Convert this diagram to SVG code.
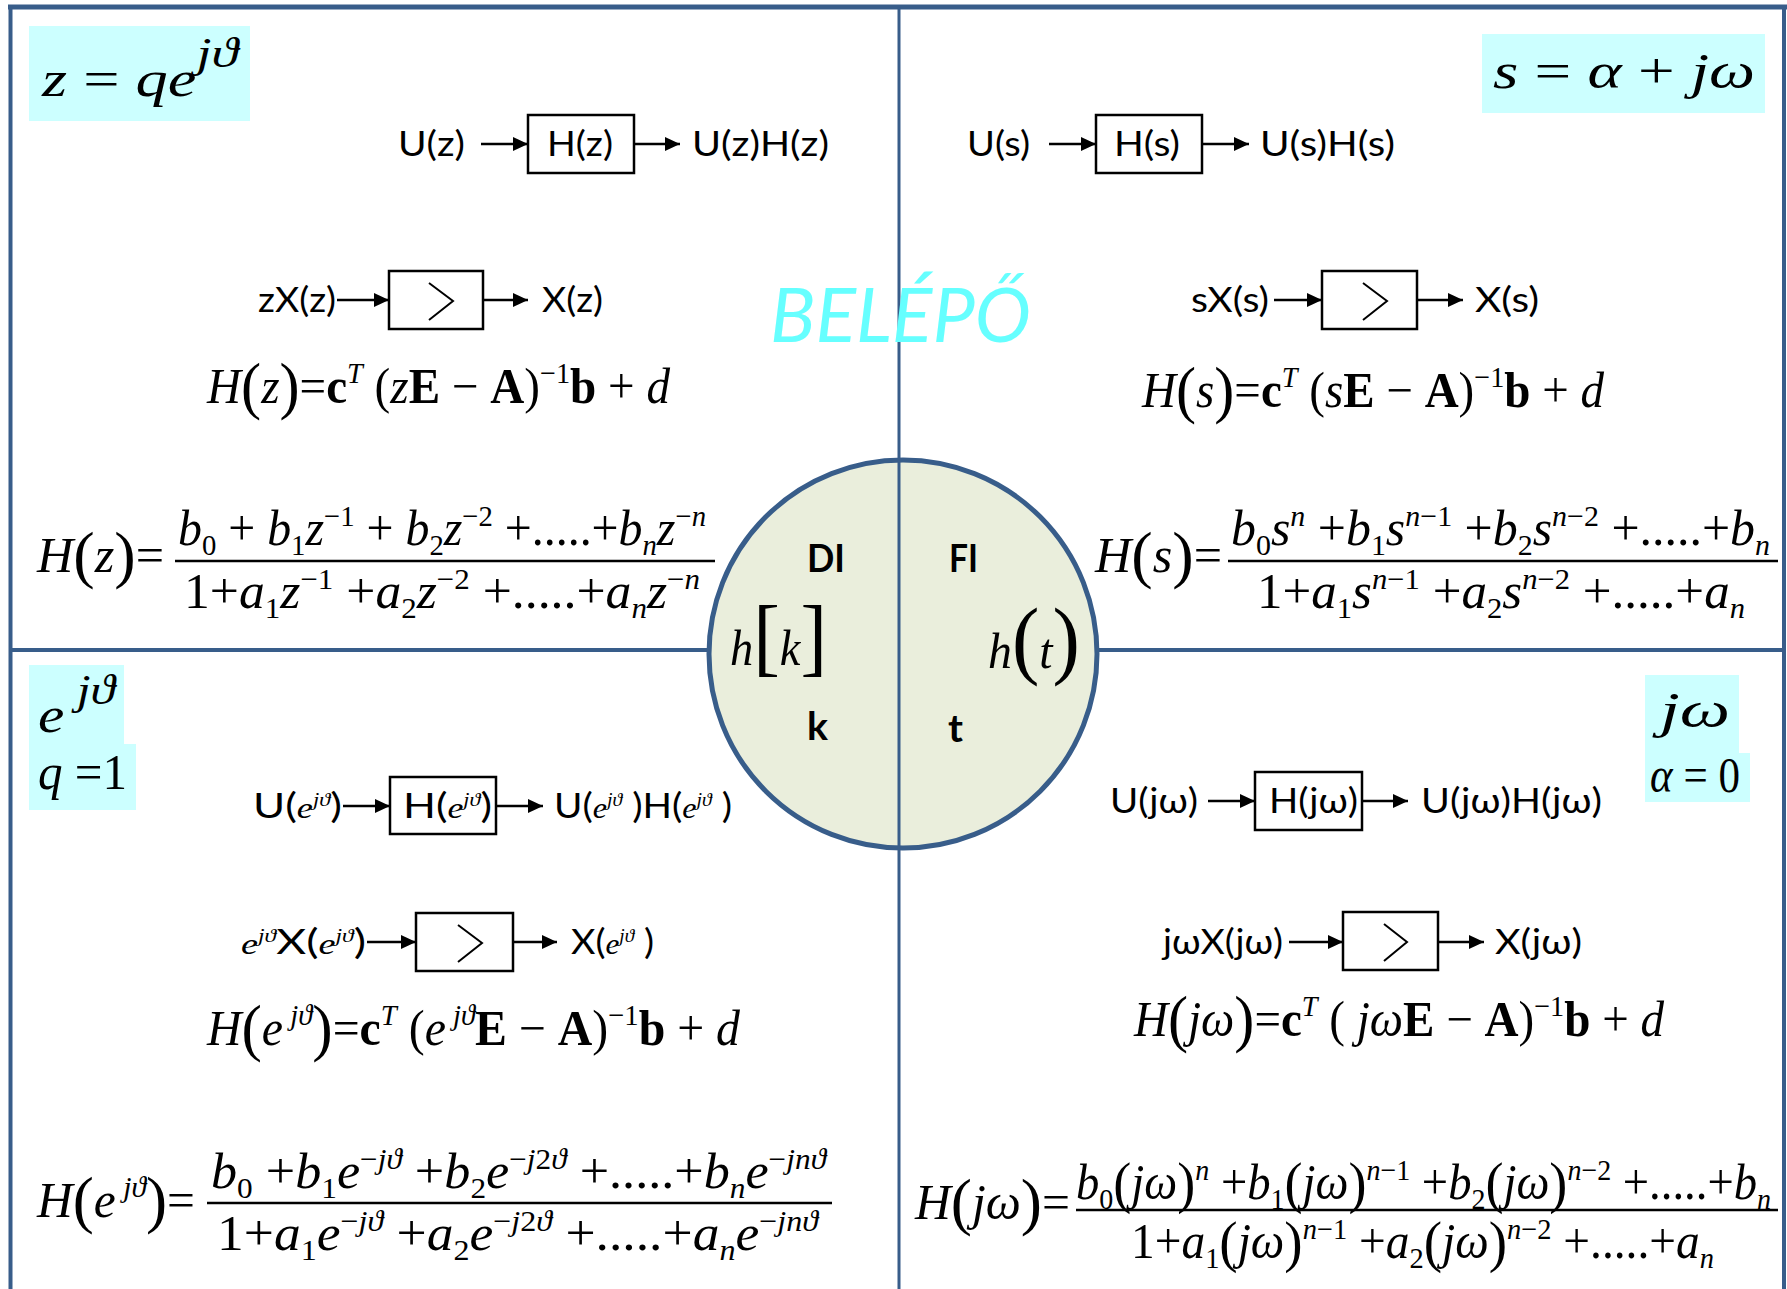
<svg xmlns="http://www.w3.org/2000/svg" width="1787" height="1289" viewBox="0 0 1787 1289">
<style>
.t{font-family:Lato,'Open Sans','DejaVu Sans',sans-serif;font-size:35px;fill:#000}
.bd{font-family:Lato,'Open Sans','DejaVu Sans',sans-serif;font-weight:bold;font-size:39px;fill:#000}
.f{font-family:'Liberation Serif','Times New Roman',serif;font-size:50px;fill:#000}
.i{font-style:italic}
.b{font-weight:bold}
.s{font-size:30px}
.P{font-size:64px}
.ei{font-family:'Liberation Serif','Times New Roman',serif;font-style:italic;font-size:29px}
.ej{font-family:'Liberation Serif','Times New Roman',serif;font-style:italic;font-size:18px}
.box{fill:none;stroke:#000;stroke-width:2.5}
.chev{fill:none;stroke:#000;stroke-width:2}
.cy{fill:#CCFFFF}
.fl{stroke:#000;stroke-width:2.5}
.frame{stroke:#385D8A;fill:none}
.arr{stroke:#000;stroke-width:2.5;fill:none;marker-end:url(#ah)}
</style>
<defs>
<marker id="ah" markerUnits="userSpaceOnUse" markerWidth="15" markerHeight="14" refX="15" refY="7" orient="auto"><path d="M0,0 L15,7 L0,14 z" fill="#000"/></marker>
</defs>
<rect width="1787" height="1289" fill="#fff"/>
<g id="frame" class="frame">
<line x1="8" y1="7" x2="1787" y2="7" stroke-width="5"/>
<line x1="10.5" y1="5" x2="10.5" y2="1289" stroke-width="4"/>
<line x1="1784" y1="5" x2="1784" y2="1289" stroke-width="4"/>
<line x1="10" y1="650" x2="1784" y2="650" stroke-width="4"/>
</g>
<g id="center-circle">
<circle cx="903" cy="654" r="194" fill="#EAEEDC" stroke="#385D8A" stroke-width="5"/>
</g>
<g id="divider"><line x1="899" y1="7" x2="899" y2="1289" stroke="#385D8A" stroke-width="3"/></g>
<g id="center-labels">
<text class="bd" x="807" y="572" textLength="38" lengthAdjust="spacingAndGlyphs">DI</text>
<text class="bd" x="949" y="572" textLength="29" lengthAdjust="spacingAndGlyphs">FI</text>
<text class="bd" x="807" y="740" textLength="21" lengthAdjust="spacingAndGlyphs">k</text>
<text class="bd" x="948" y="742" textLength="15" lengthAdjust="spacingAndGlyphs">t</text>
<text class="f" x="730" y="665" font-size="70" textLength="97" lengthAdjust="spacingAndGlyphs"><tspan class="i">h</tspan><tspan font-size="86">[</tspan><tspan class="i">k</tspan><tspan font-size="86">]</tspan></text>
<text class="f" x="988" y="668" font-size="70" textLength="92" lengthAdjust="spacingAndGlyphs"><tspan class="i">h</tspan><tspan font-size="86">(</tspan><tspan class="i">t</tspan><tspan font-size="86">)</tspan></text>
</g>
<g id="belepo"><text x="770" y="342" font-family="Lato,'Open Sans',sans-serif" font-style="italic" font-weight="400" font-size="76" fill="#66FFFF" textLength="261" lengthAdjust="spacingAndGlyphs">BELÉPŐ</text></g>

<g id="tag-z">
<rect class="cy" x="29" y="26" width="221" height="95"/>
<text class="f" x="42" y="96" font-size="68" textLength="196" lengthAdjust="spacingAndGlyphs"><tspan class="i">z</tspan> = <tspan class="i">qe</tspan><tspan class="i" font-size="42" dy="-29">jϑ</tspan></text>
</g>
<g id="tag-s">
<rect class="cy" x="1482" y="34" width="283" height="79"/>
<text class="f" x="1493" y="88" font-size="66" textLength="262" lengthAdjust="spacingAndGlyphs"><tspan class="i">s</tspan> = <tspan class="i">α</tspan> + <tspan class="i">jω</tspan></text>
</g>
<g id="tag-e">
<rect class="cy" x="29" y="665" width="95" height="80"/>
<rect class="cy" x="29" y="744" width="107" height="66"/>
<text class="f" x="38" y="732" font-size="70" textLength="77" lengthAdjust="spacingAndGlyphs"><tspan class="i">e</tspan><tspan class="i" font-size="42" dy="-28"> jϑ</tspan></text>
<text class="f" x="38" y="789" font-size="54" textLength="89" lengthAdjust="spacingAndGlyphs"><tspan class="i">q</tspan> =1</text>
</g>
<g id="tag-jw">
<rect class="cy" x="1645" y="675" width="94" height="79"/>
<rect class="cy" x="1645" y="753" width="105" height="49"/>
<text class="f" x="1660" y="727" font-size="68" textLength="70" lengthAdjust="spacingAndGlyphs"><tspan class="i">jω</tspan></text>
<text class="f" x="1650" y="792" font-size="50" textLength="90" lengthAdjust="spacingAndGlyphs"><tspan class="i">α</tspan> = 0</text>
</g>

<g id="tl-row1">
<text class="t" x="398" y="156" textLength="67" lengthAdjust="spacingAndGlyphs">U(z)</text>
<rect class="box" x="528" y="115" width="106" height="58"/>
<text class="t" x="547" y="156" textLength="66" lengthAdjust="spacingAndGlyphs">H(z)</text>
<text class="t" x="692" y="156" textLength="137" lengthAdjust="spacingAndGlyphs">U(z)H(z)</text>
</g>
<g id="tr-row1">
<text class="t" x="967" y="156" textLength="63" lengthAdjust="spacingAndGlyphs">U(s)</text>
<rect class="box" x="1096" y="115" width="106" height="58"/>
<text class="t" x="1114" y="156" textLength="66" lengthAdjust="spacingAndGlyphs">H(s)</text>
<text class="t" x="1260" y="156" textLength="135" lengthAdjust="spacingAndGlyphs">U(s)H(s)</text>
</g>
<g id="tl-row2">
<text class="t" x="258" y="312" textLength="78" lengthAdjust="spacingAndGlyphs">zX(z)</text>
<rect class="box" x="389" y="271" width="94" height="58"/>
<polyline class="chev" points="429,283 453,301 429,320"/>
<text class="t" x="542" y="312" textLength="61" lengthAdjust="spacingAndGlyphs">X(z)</text>
</g>
<g id="tr-row2">
<text class="t" x="1191" y="312" textLength="78" lengthAdjust="spacingAndGlyphs">sX(s)</text>
<rect class="box" x="1322" y="271" width="95" height="58"/>
<polyline class="chev" points="1363,283 1387,301 1363,320"/>
<text class="t" x="1475" y="312" textLength="64" lengthAdjust="spacingAndGlyphs">X(s)</text>
</g>
<g id="bl-row3">
<text class="t" x="253" y="818" textLength="89" lengthAdjust="spacingAndGlyphs">U(<tspan class="ei">e</tspan><tspan class="ej" dy="-12">jϑ</tspan><tspan dy="12">)</tspan></text>
<rect class="box" x="390" y="777" width="106" height="57"/>
<text class="t" x="403" y="818" textLength="89" lengthAdjust="spacingAndGlyphs">H(<tspan class="ei">e</tspan><tspan class="ej" dy="-12">jϑ</tspan><tspan dy="12">)</tspan></text>
<text class="t" x="554" y="818" textLength="178" lengthAdjust="spacingAndGlyphs">U(<tspan class="ei">e</tspan><tspan class="ej" dy="-12">jϑ</tspan><tspan dy="12"> )H(</tspan><tspan class="ei">e</tspan><tspan class="ej" dy="-12">jϑ</tspan><tspan dy="12"> )</tspan></text>
</g>
<g id="br-row3">
<text class="t" x="1110" y="813" textLength="88" lengthAdjust="spacingAndGlyphs">U(jω)</text>
<rect class="box" x="1255" y="772" width="107" height="58"/>
<text class="t" x="1269" y="813" textLength="89" lengthAdjust="spacingAndGlyphs">H(jω)</text>
<text class="t" x="1421" y="813" textLength="181" lengthAdjust="spacingAndGlyphs">U(jω)H(jω)</text>
</g>
<g id="bl-row4">
<text class="t" x="241" y="954" textLength="125" lengthAdjust="spacingAndGlyphs"><tspan class="ei">e</tspan><tspan class="ej" dy="-12">jϑ</tspan><tspan dy="12">X(</tspan><tspan class="ei">e</tspan><tspan class="ej" dy="-12">jϑ</tspan><tspan dy="12">)</tspan></text>
<rect class="box" x="416" y="913" width="97" height="58"/>
<polyline class="chev" points="458,925 482,943 458,962"/>
<text class="t" x="571" y="954" textLength="83" lengthAdjust="spacingAndGlyphs">X(<tspan class="ei">e</tspan><tspan class="ej" dy="-12">jϑ</tspan><tspan dy="12"> )</tspan></text>
</g>
<g id="br-row4">
<text class="t" x="1163" y="954" textLength="120" lengthAdjust="spacingAndGlyphs">jωX(jω)</text>
<rect class="box" x="1343" y="912" width="95" height="58"/>
<polyline class="chev" points="1384,924 1407,942 1384,961"/>
<text class="t" x="1495" y="954" textLength="87" lengthAdjust="spacingAndGlyphs">X(jω)</text>
</g>

<g id="tl-state"><text class="f" x="207" y="403" textLength="463" lengthAdjust="spacingAndGlyphs"><tspan class="i">H</tspan><tspan class="P" dy="4">(</tspan><tspan class="i" dy="-4">z</tspan><tspan class="P" dy="4">)</tspan><tspan dy="-4">=</tspan><tspan class="b">c</tspan><tspan class="s i" dy="-20">T</tspan><tspan dy="20"> (</tspan><tspan class="i">z</tspan><tspan class="b">E</tspan> − <tspan class="b">A</tspan>)<tspan class="s" dy="-20">−1</tspan><tspan class="b" dy="20">b</tspan> + <tspan class="i">d</tspan></text></g>
<g id="tr-state"><text class="f" x="1142" y="407" textLength="462" lengthAdjust="spacingAndGlyphs"><tspan class="i">H</tspan><tspan class="P" dy="4">(</tspan><tspan class="i" dy="-4">s</tspan><tspan class="P" dy="4">)</tspan><tspan dy="-4">=</tspan><tspan class="b">c</tspan><tspan class="s i" dy="-20">T</tspan><tspan dy="20"> (</tspan><tspan class="i">s</tspan><tspan class="b">E</tspan> − <tspan class="b">A</tspan>)<tspan class="s" dy="-20">−1</tspan><tspan class="b" dy="20">b</tspan> + <tspan class="i">d</tspan></text></g>
<g id="bl-state"><text class="f" x="207" y="1045" textLength="533" lengthAdjust="spacingAndGlyphs"><tspan class="i">H</tspan><tspan class="P" dy="4">(</tspan><tspan class="i" dy="-4">e</tspan><tspan class="s i" dy="-20"> jϑ</tspan><tspan class="P" dy="24">)</tspan><tspan dy="-4">=</tspan><tspan class="b">c</tspan><tspan class="s i" dy="-20">T</tspan><tspan dy="20"> (</tspan><tspan class="i">e</tspan><tspan class="s i" dy="-20"> jϑ</tspan><tspan class="b" dy="20">E</tspan> − <tspan class="b">A</tspan>)<tspan class="s" dy="-20">−1</tspan><tspan class="b" dy="20">b</tspan> + <tspan class="i">d</tspan></text></g>
<g id="br-state"><text class="f" x="1134" y="1036" textLength="530" lengthAdjust="spacingAndGlyphs"><tspan class="i">H</tspan><tspan class="P" dy="4">(</tspan><tspan class="i" dy="-4">jω</tspan><tspan class="P" dy="4">)</tspan><tspan dy="-4">=</tspan><tspan class="b">c</tspan><tspan class="s i" dy="-20">T</tspan><tspan dy="20"> ( </tspan><tspan class="i">jω</tspan><tspan class="b">E</tspan> − <tspan class="b">A</tspan>)<tspan class="s" dy="-20">−1</tspan><tspan class="b" dy="20">b</tspan> + <tspan class="i">d</tspan></text></g>

<g id="tl-frac">
<text class="f" x="37" y="572" textLength="127" lengthAdjust="spacingAndGlyphs"><tspan class="i">H</tspan><tspan class="P" dy="4">(</tspan><tspan class="i" dy="-4">z</tspan><tspan class="P" dy="4">)</tspan><tspan dy="-4">=</tspan></text>
<text class="f" x="178" y="545" textLength="528" lengthAdjust="spacingAndGlyphs"><tspan class="i">b</tspan><tspan class="s" dy="10">0</tspan><tspan dy="-10"> + </tspan><tspan class="i">b</tspan><tspan class="s" dy="10">1</tspan><tspan class="i" dy="-10">z</tspan><tspan class="s" dy="-19">−1</tspan><tspan dy="19"> + </tspan><tspan class="i">b</tspan><tspan class="s" dy="10">2</tspan><tspan class="i" dy="-10">z</tspan><tspan class="s" dy="-19">−2</tspan><tspan dy="19"> +.....+</tspan><tspan class="i">b</tspan><tspan class="s i" dy="10">n</tspan><tspan class="i" dy="-10">z</tspan><tspan class="s" dy="-19">−<tspan class="i">n</tspan></tspan></text>
<line class="fl" x1="175" y1="561" x2="715" y2="561"/>
<text class="f" x="184" y="608" textLength="516" lengthAdjust="spacingAndGlyphs">1+<tspan class="i">a</tspan><tspan class="s" dy="10">1</tspan><tspan class="i" dy="-10">z</tspan><tspan class="s" dy="-19">−1</tspan><tspan dy="19"> +</tspan><tspan class="i">a</tspan><tspan class="s" dy="10">2</tspan><tspan class="i" dy="-10">z</tspan><tspan class="s" dy="-19">−2</tspan><tspan dy="19"> +.....+</tspan><tspan class="i">a</tspan><tspan class="s i" dy="10">n</tspan><tspan class="i" dy="-10">z</tspan><tspan class="s" dy="-19">−<tspan class="i">n</tspan></tspan></text>
</g>
<g id="tr-frac">
<text class="f" x="1095" y="572" textLength="127" lengthAdjust="spacingAndGlyphs"><tspan class="i">H</tspan><tspan class="P" dy="4">(</tspan><tspan class="i" dy="-4">s</tspan><tspan class="P" dy="4">)</tspan><tspan dy="-4">=</tspan></text>
<text class="f" x="1231" y="545" textLength="539" lengthAdjust="spacingAndGlyphs"><tspan class="i">b</tspan><tspan class="s" dy="10">0</tspan><tspan class="i" dy="-10">s</tspan><tspan class="s i" dy="-19">n</tspan><tspan dy="19"> +</tspan><tspan class="i">b</tspan><tspan class="s" dy="10">1</tspan><tspan class="i" dy="-10">s</tspan><tspan class="s" dy="-19"><tspan class="i">n</tspan>−1</tspan><tspan dy="19"> +</tspan><tspan class="i">b</tspan><tspan class="s" dy="10">2</tspan><tspan class="i" dy="-10">s</tspan><tspan class="s" dy="-19"><tspan class="i">n</tspan>−2</tspan><tspan dy="19"> +.....+</tspan><tspan class="i">b</tspan><tspan class="s i" dy="10">n</tspan></text>
<line class="fl" x1="1228" y1="561" x2="1778" y2="561"/>
<text class="f" x="1257" y="608" textLength="488" lengthAdjust="spacingAndGlyphs">1+<tspan class="i">a</tspan><tspan class="s" dy="10">1</tspan><tspan class="i" dy="-10">s</tspan><tspan class="s" dy="-19"><tspan class="i">n</tspan>−1</tspan><tspan dy="19"> +</tspan><tspan class="i">a</tspan><tspan class="s" dy="10">2</tspan><tspan class="i" dy="-10">s</tspan><tspan class="s" dy="-19"><tspan class="i">n</tspan>−2</tspan><tspan dy="19"> +.....+</tspan><tspan class="i">a</tspan><tspan class="s i" dy="10">n</tspan></text>
</g>
<g id="bl-frac">
<text class="f" x="37" y="1217" textLength="158" lengthAdjust="spacingAndGlyphs"><tspan class="i">H</tspan><tspan class="P" dy="4">(</tspan><tspan class="i" dy="-4">e</tspan><tspan class="s i" dy="-20"> jϑ</tspan><tspan class="P" dy="24">)</tspan><tspan dy="-4">=</tspan></text>
<text class="f" x="211" y="1188" textLength="615" lengthAdjust="spacingAndGlyphs"><tspan class="i">b</tspan><tspan class="s" dy="10">0</tspan><tspan dy="-10"> +</tspan><tspan class="i">b</tspan><tspan class="s" dy="10">1</tspan><tspan class="i" dy="-10">e</tspan><tspan class="s" dy="-19">−<tspan class="i">jϑ</tspan></tspan><tspan dy="19"> +</tspan><tspan class="i">b</tspan><tspan class="s" dy="10">2</tspan><tspan class="i" dy="-10">e</tspan><tspan class="s" dy="-19">−<tspan class="i">j</tspan>2<tspan class="i">ϑ</tspan></tspan><tspan dy="19"> +.....+</tspan><tspan class="i">b</tspan><tspan class="s i" dy="10">n</tspan><tspan class="i" dy="-10">e</tspan><tspan class="s" dy="-19">−<tspan class="i">jnϑ</tspan></tspan></text>
<line class="fl" x1="207" y1="1203" x2="832" y2="1203"/>
<text class="f" x="217" y="1250" textLength="601" lengthAdjust="spacingAndGlyphs">1+<tspan class="i">a</tspan><tspan class="s" dy="10">1</tspan><tspan class="i" dy="-10">e</tspan><tspan class="s" dy="-19">−<tspan class="i">jϑ</tspan></tspan><tspan dy="19"> +</tspan><tspan class="i">a</tspan><tspan class="s" dy="10">2</tspan><tspan class="i" dy="-10">e</tspan><tspan class="s" dy="-19">−<tspan class="i">j</tspan>2<tspan class="i">ϑ</tspan></tspan><tspan dy="19"> +.....+</tspan><tspan class="i">a</tspan><tspan class="s i" dy="10">n</tspan><tspan class="i" dy="-10">e</tspan><tspan class="s" dy="-19">−<tspan class="i">jnϑ</tspan></tspan></text>
</g>
<g id="br-frac">
<text class="f" x="915" y="1219" textLength="155" lengthAdjust="spacingAndGlyphs"><tspan class="i">H</tspan><tspan class="P" dy="4">(</tspan><tspan class="i" dy="-4">jω</tspan><tspan class="P" dy="4">)</tspan><tspan dy="-4">=</tspan></text>
<text class="f" x="1076" y="1199" textLength="695" lengthAdjust="spacingAndGlyphs"><tspan class="i">b</tspan><tspan class="s" dy="10">0</tspan><tspan font-size="58" dy="-7">(</tspan><tspan class="i" dy="-3">jω</tspan><tspan font-size="58" dy="3">)</tspan><tspan class="s i" dy="-22">n</tspan><tspan dy="19"> +</tspan><tspan class="i">b</tspan><tspan class="s" dy="10">1</tspan><tspan font-size="58" dy="-7">(</tspan><tspan class="i" dy="-3">jω</tspan><tspan font-size="58" dy="3">)</tspan><tspan class="s" dy="-22"><tspan class="i">n</tspan>−1</tspan><tspan dy="19"> +</tspan><tspan class="i">b</tspan><tspan class="s" dy="10">2</tspan><tspan font-size="58" dy="-7">(</tspan><tspan class="i" dy="-3">jω</tspan><tspan font-size="58" dy="3">)</tspan><tspan class="s" dy="-22"><tspan class="i">n</tspan>−2</tspan><tspan dy="19"> +.....+</tspan><tspan class="i">b</tspan><tspan class="s i" dy="10">n</tspan></text>
<line class="fl" x1="1076" y1="1210" x2="1778" y2="1210"/>
<text class="f" x="1131" y="1258" textLength="583" lengthAdjust="spacingAndGlyphs">1+<tspan class="i">a</tspan><tspan class="s" dy="10">1</tspan><tspan font-size="58" dy="-7">(</tspan><tspan class="i" dy="-3">jω</tspan><tspan font-size="58" dy="3">)</tspan><tspan class="s" dy="-22"><tspan class="i">n</tspan>−1</tspan><tspan dy="19"> +</tspan><tspan class="i">a</tspan><tspan class="s" dy="10">2</tspan><tspan font-size="58" dy="-7">(</tspan><tspan class="i" dy="-3">jω</tspan><tspan font-size="58" dy="3">)</tspan><tspan class="s" dy="-22"><tspan class="i">n</tspan>−2</tspan><tspan dy="19"> +.....+</tspan><tspan class="i">a</tspan><tspan class="s i" dy="10">n</tspan></text>
</g>

<g id="connectors">
<line class="arr" x1="481" y1="144" x2="528" y2="144"/>
<line class="arr" x1="634" y1="144" x2="680" y2="144"/>
<line class="arr" x1="1049" y1="144" x2="1096" y2="144"/>
<line class="arr" x1="1202" y1="144" x2="1249" y2="144"/>
<line class="arr" x1="337" y1="300" x2="389" y2="300"/>
<line class="arr" x1="483" y1="300" x2="528" y2="300"/>
<line class="arr" x1="1274" y1="300" x2="1322" y2="300"/>
<line class="arr" x1="1417" y1="300" x2="1463" y2="300"/>
<line class="arr" x1="343" y1="806" x2="390" y2="806"/>
<line class="arr" x1="496" y1="806" x2="543" y2="806"/>
<line class="arr" x1="1208" y1="801" x2="1255" y2="801"/>
<line class="arr" x1="1362" y1="801" x2="1408" y2="801"/>
<line class="arr" x1="367" y1="942" x2="416" y2="942"/>
<line class="arr" x1="513" y1="942" x2="557" y2="942"/>
<line class="arr" x1="1289" y1="942" x2="1343" y2="942"/>
<line class="arr" x1="1438" y1="942" x2="1484" y2="942"/>
</g>
</svg>
